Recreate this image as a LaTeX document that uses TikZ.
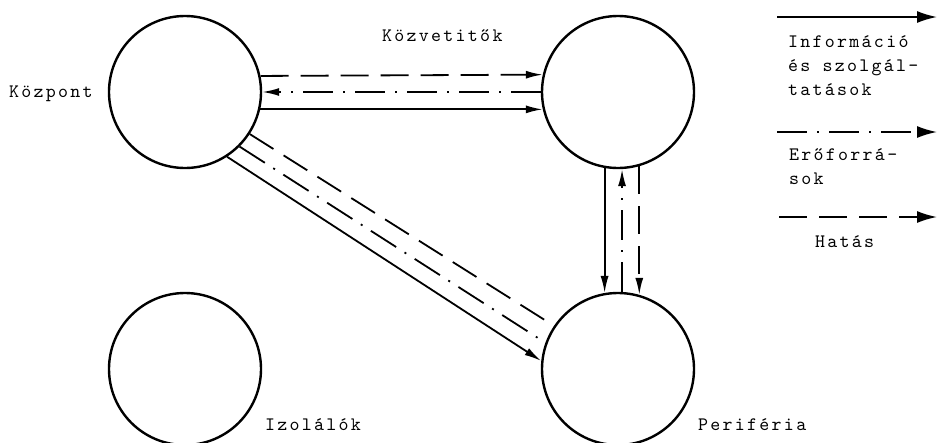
\documentclass[tikz,border=0pt]{standalone}
\usepackage{fontspec}
\usetikzlibrary{arrows.meta}
% typewriter lettering with wide letter spacing
\newfontfamily\twfont{lmmono10-regular.otf}[LetterSpace=12]
\newcommand{\typew}{\twfont\fontsize{19}{24}\selectfont}
\begin{document}
\begin{tikzpicture}[x=1pt,y=-1pt,
  sphere/.style={circle,draw,line width=2.4pt,minimum size=152pt,inner sep=0pt},
  lbl/.style={font=\typew,inner sep=0pt,anchor=base west},
  flow/.style={line width=1.8pt},
  info/.style={flow},
  res/.style={flow,dash pattern=on 30pt off 10pt on 2pt off 10pt},
  eff/.style={flow,dash pattern=on 28pt off 12pt},
  tip/.style={-{Latex[length=17pt,width=8pt]}},
  legtip/.style={-{Latex[length=20pt,width=12pt]}},
]
\clip (0,0) rectangle (942,442);

% the four groups
\node[sphere] (kp) at (185,92)  {};
\node[sphere] (kv) at (618,92)  {};
\node[sphere] (pf) at (618,369) {};
\node[sphere] (iz) at (185,369) {};

% labels of the groups
\node[lbl] (tKp) at (9,97)    {Központ};
\node[lbl] (tKv) at (382,41)  {Közvetitők};
\node[lbl] (tIz) at (265,430) {Izolálók};
\node[lbl] (tPf) at (698,430) {Periféria};

% centre <-> intermediaries
\draw[eff,tip]  (kp.12.2)  -- (kv.167.8);
\draw[res,tip]  (kv.180)   -- (kp.0);
\draw[info,tip] (kp.-13.7) -- (kv.193.7);

% intermediaries <-> periphery
\draw[info,tip] (kv.260) -- (pf.100);
\draw[res,tip]  (pf.87)  -- (kv.273);
\draw[eff,tip]  (kv.286) -- (pf.74);

% centre -> periphery
\coordinate (rEnd) at (538,338);
\draw[eff]      (kp.-33.5) -- (pf.146.7);
\draw[res]      (kp.-45.5) -- (rEnd);
\draw[info,tip] (kp.-57.5) -- (pf.174.7);

% legend
\coordinate (la1) at (777,17);  \coordinate (lb1) at (937,17);
\coordinate (la2) at (777,132); \coordinate (lb2) at (937,132);
\coordinate (la3) at (779,217); \coordinate (lb3) at (937,217);
\draw[info,legtip] (la1) -- (lb1);
\draw[res,legtip]  (la2) -- (lb2);
\draw[eff,legtip]  (la3) -- (lb3);

\node[lbl] (g1a) at (788,47)  {Információ};
\node[lbl] (g1b) at (788,71)  {és szolgál-};
\node[lbl] (g1c) at (788,95)  {tatások};
\node[lbl] (g2a) at (789,160) {Erőforrá-};
\node[lbl] (g2b) at (789,184) {sok};
\node[lbl] (g3a) at (815,247) {Hatás};
\end{tikzpicture}
\end{document}
